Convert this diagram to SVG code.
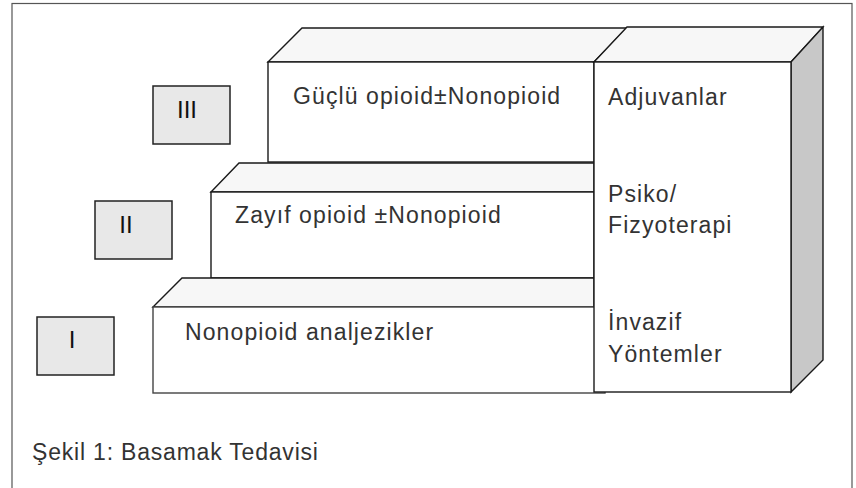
<svg xmlns="http://www.w3.org/2000/svg" width="856" height="488" viewBox="0 0 856 488">
<style>
.t{font-family:"Liberation Sans",Arial,sans-serif;font-size:23px;letter-spacing:1.1px;fill:#333}
.n{font-family:"Liberation Sans",Arial,sans-serif;font-size:24px;fill:#111;text-anchor:middle}
.ln{stroke:#1a1a1a;stroke-width:1.4;stroke-linejoin:miter}
.front{fill:#fff}
.top{fill:#f7f7f7}
.side{fill:#c8c8c8}
.lab{fill:#e8e8e8;stroke:#222;stroke-width:1.5}
</style>
<rect x="0" y="0" width="856" height="488" fill="#fff"/>
<rect x="12" y="3.5" width="840" height="490" fill="none" stroke="#555" stroke-width="1.2"/>

<g id="step3">
<polygon class="top ln" points="268,62 302,28 627,28 594,62"/>
<rect class="front ln" x="268" y="62" width="326" height="100"/>
<text class="t" x="293" y="104">Güçlü opioid±Nonopioid</text>
</g>
<g id="step2">
<polygon class="top ln" points="211,192 239,163 594,163 594,192"/>
<rect class="front ln" x="211" y="192" width="383" height="86"/>
<text class="t" x="235" y="223">Zayıf opioid ±Nonopioid</text>
</g>
<g id="step1">
<polygon class="top ln" points="153,307 182,278 594,278 594,307"/>
<rect class="front ln" x="153" y="307" width="452" height="86" style="stroke:#444"/>
<text class="t" x="185" y="340">Nonopioid analjezikler</text>
</g>
<g id="adjuvant">
<polygon class="top ln" points="594,62 627,27 823,27 791,62"/>
<polygon class="side ln" points="791,62 823,27 823,360 791,392"/>
<rect class="front ln" x="594" y="62" width="197" height="330"/>
<text class="t" x="608" y="105">Adjuvanlar</text>
<text class="t" x="608" y="202">Psiko/</text>
<text class="t" x="608" y="233">Fizyoterapi</text>
<text class="t" x="608" y="330">İnvazif</text>
<text class="t" x="608" y="362">Yöntemler</text>
</g>

<g id="label3">
<rect class="lab" x="153" y="86" width="77" height="58"/>
<text class="n" x="187" y="118">III</text>
</g>
<g id="label2">
<rect class="lab" x="95" y="201" width="77" height="58"/>
<text class="n" x="126" y="233">II</text>
</g>
<g id="label1">
<rect class="lab" x="37" y="317" width="77" height="58"/>
<text class="n" x="72" y="348">I</text>
</g>

<g id="connectors"></g>

<text class="t" x="32" y="460" style="letter-spacing:0.8px">Şekil 1: Basamak Tedavisi</text>
</svg>
